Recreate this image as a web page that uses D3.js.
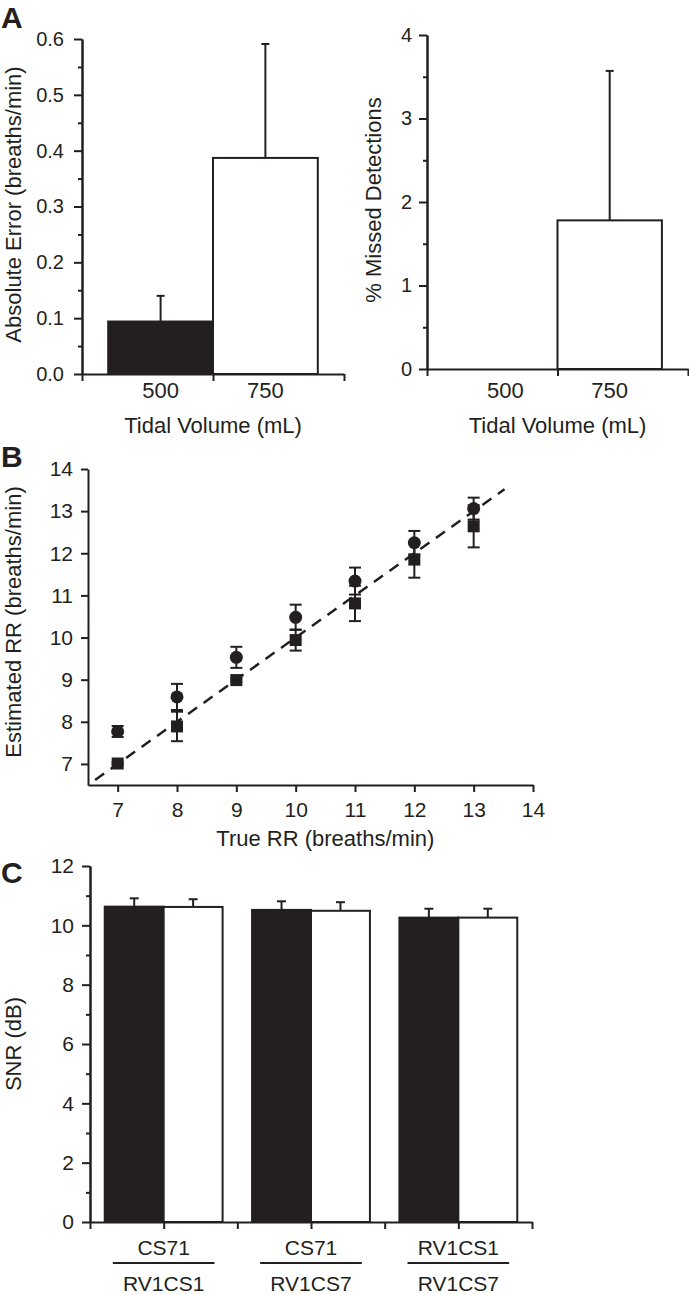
<!DOCTYPE html>
<html>
<head>
<meta charset="utf-8">
<script src="https://cdn.jsdelivr.net/npm/d3@7"></script>
<style>
    body { margin: 0; background: #fff; }
    svg text { font-family: "Liberation Sans", Arial, Helvetica, sans-serif; }
</style>
</head>
<body>
<svg id="fig" width="689" height="1295"></svg>
<script>
// Panel A data
const tidalVolumes = [500, 750];
const absErrorMean = [0.094, 0.387];
const absErrorSD = [0.046, 0.204];
const missedMean = [0, 1.78];
const missedSD = [0, 1.79];

// Panel B data
const trueRR = [7, 8, 9, 10, 11, 12, 13];
const estCircle = [7.77, 8.59, 9.53, 10.48, 11.34, 12.25, 13.06];
const errCircle = [0.13, 0.31, 0.25, 0.30, 0.32, 0.28, 0.26];
const estSquare = [7.01, 7.89, 8.99, 9.94, 10.81, 11.85, 12.64];
const errSquare = [0.03, 0.35, 0.04, 0.25, 0.42, 0.43, 0.50];
const identityRange = [6.62, 13.52];

// Panel C data
const snrTop = ["CS71", "CS71", "RV1CS1"];
const snrBottom = ["RV1CS1", "RV1CS7", "RV1CS7"];
const snrBlack = [10.63, 10.52, 10.26];
const snrBlackErr = [0.28, 0.29, 0.30];
const snrWhite = [10.62, 10.49, 10.26];
const snrWhiteErr = [0.26, 0.29, 0.30];

const ink = "#231f20";
const svg = d3.select("#fig");
svg.append("rect").attr("width", 689).attr("height", 1295).attr("fill", "#fff");

// applying common look to a d3 axis
function styleAxis(g, size) {
    g.attr("font-family", null).attr("font-size", null);
    g.selectAll("path, line").attr("stroke", ink).attr("stroke-width", 2);
    g.selectAll("text").attr("fill", ink).style("font-size", size + "px");
}

function yAxisWithMinor(scale, x, major, minor, fmt, pad, size) {
    const gMinor = svg.append("g").attr("transform", `translate(${x},0)`)
        .call(d3.axisLeft(scale).tickValues(minor).tickSize(4).tickSizeOuter(0).tickFormat(""));
    styleAxis(gMinor, size);
    const g = svg.append("g").attr("transform", `translate(${x},0)`)
        .call(d3.axisLeft(scale).tickValues(major).tickSize(8).tickSizeOuter(0).tickPadding(pad).tickFormat(fmt));
    styleAxis(g, size);
}

function yTitle(text, x, y) {
    svg.append("text")
        .attr("transform", `translate(${x},${y}) rotate(-90)`)
        .attr("text-anchor", "middle")
        .attr("fill", ink)
        .style("font-size", "22px")
        .text(text);
}

function panelLetter(text, x, y) {
    svg.append("text").attr("x", x).attr("y", y)
        .attr("fill", ink).style("font-size", "30px").style("font-weight", "bold")
        .text(text);
}

// ---------- Panel A ----------
function barPanel(xRange, yScale, means, sds, major, minor, fmt, pad, titleX, yLabel) {
    const x = d3.scaleLinear().domain([312.5, 937.5]).range(xRange);
    const y0 = yScale(0);

    // bars
    tidalVolumes.forEach((v, i) => {
        if (means[i] <= 0) return;
        svg.append("rect")
            .attr("x", x(v - 125)).attr("width", x(v + 125) - x(v - 125))
            .attr("y", yScale(means[i])).attr("height", y0 - yScale(means[i]))
            .attr("fill", i === 0 ? ink : "#fff")
            .attr("stroke", ink).attr("stroke-width", 2);
        // upward error bar
        const top = yScale(means[i] + sds[i]);
        svg.append("line").attr("x1", x(v)).attr("x2", x(v))
            .attr("y1", yScale(means[i])).attr("y2", top)
            .attr("stroke", ink).attr("stroke-width", 2);
        svg.append("line").attr("x1", x(v) - 4).attr("x2", x(v) + 4)
            .attr("y1", top).attr("y2", top)
            .attr("stroke", ink).attr("stroke-width", 2);
    });

    const gx = svg.append("g").attr("transform", `translate(0,${y0})`)
        .call(d3.axisBottom(x).tickValues([312.5, 625, 937.5]).tickSize(7).tickSizeOuter(0).tickFormat(""));
    styleAxis(gx, 22);

    svg.selectAll(null).data(tidalVolumes).enter().append("text")
        .attr("x", d => x(d)).attr("y", 398)
        .attr("text-anchor", "middle").attr("fill", ink).style("font-size", "22px")
        .text(d => d);
    svg.append("text").attr("x", (xRange[0] + xRange[1]) / 2).attr("y", 433)
        .attr("text-anchor", "middle").attr("fill", ink).style("font-size", "22px")
        .text("Tidal Volume (mL)");

    yAxisWithMinor(yScale, xRange[0], major, minor, fmt, pad, 20);
    yTitle(yLabel, titleX, (yScale.range()[0] + yScale.range()[1]) / 2 - 2);
}

const yA1 = d3.scaleLinear().domain([0, 0.6]).range([374, 39]);
barPanel([82, 344], yA1, absErrorMean, absErrorSD,
    d3.range(0, 0.61, 0.1), d3.range(0.05, 0.6, 0.1), d3.format(".1f"), 10, 21,
    "Absolute Error (breaths/min)");

const yA2 = d3.scaleLinear().domain([0, 4]).range([369, 35]);
barPanel([427, 688], yA2, missedMean, missedSD,
    [0, 1, 2, 3, 4], [0.5, 1.5, 2.5, 3.5], d3.format("d"), 7, 381,
    "% Missed Detections");

panelLetter("A", 1, 28);

// ---------- Panel B ----------
const xB = d3.scaleLinear().domain([6.5, 14]).range([88, 533]);
const yB = d3.scaleLinear().domain([6.5, 14]).range([785, 469]);

svg.append("path")
    .datum(identityRange)
    .attr("d", d3.line().x(d => xB(d)).y(d => yB(d)))
    .attr("fill", "none").attr("stroke", ink).attr("stroke-width", 2.5)
    .attr("stroke-dasharray", "11,8");

function errorBars(means, errs) {
    trueRR.forEach((t, i) => {
        const cx = xB(t);
        const lo = yB(means[i] - errs[i]), hi = yB(means[i] + errs[i]);
        svg.append("line").attr("x1", cx).attr("x2", cx).attr("y1", lo).attr("y2", hi)
            .attr("stroke", ink).attr("stroke-width", 2);
        [lo, hi].forEach(yy => {
            svg.append("line").attr("x1", cx - 6).attr("x2", cx + 6).attr("y1", yy).attr("y2", yy)
                .attr("stroke", ink).attr("stroke-width", 2);
        });
    });
}
errorBars(estCircle, errCircle);
errorBars(estSquare, errSquare);

svg.selectAll(".sq").data(trueRR).enter().append("rect")
    .attr("class", "sq")
    .attr("x", d => xB(d) - 6).attr("y", (d, i) => yB(estSquare[i]) - 6)
    .attr("width", 12).attr("height", 12).attr("fill", ink);
svg.selectAll(".ci").data(trueRR).enter().append("circle")
    .attr("class", "ci")
    .attr("cx", d => xB(d)).attr("cy", (d, i) => yB(estCircle[i]))
    .attr("r", 6.5).attr("fill", ink);

const gxB = svg.append("g").attr("transform", `translate(0,${yB(6.5)})`)
    .call(d3.axisBottom(xB).tickValues(d3.range(7, 15)).tickSize(7).tickSizeOuter(0).tickPadding(10));
styleAxis(gxB, 21);
const gyB = svg.append("g").attr("transform", `translate(${xB(6.5)},0)`)
    .call(d3.axisLeft(yB).tickValues(d3.range(7, 15)).tickSize(7).tickSizeOuter(0).tickPadding(8));
styleAxis(gyB, 21);

svg.append("text").attr("x", (xB(7) + xB(14)) / 2).attr("y", 846)
    .attr("text-anchor", "middle").attr("fill", ink).style("font-size", "22px")
    .text("True RR (breaths/min)");
yTitle("Estimated RR (breaths/min)", 21, 622);
panelLetter("B", 1, 467);

// ---------- Panel C ----------
const xC = d3.scaleLinear().domain([0, 3]).range([90, 532]);
const yC = d3.scaleLinear().domain([0, 12]).range([1222, 866]);
const barW = xC(0.4) - xC(0);

snrTop.forEach((lab, i) => {
    const c = xC(i + 0.5);
    const pairs = [
        { x0: c - barW, v: snrBlack[i], e: snrBlackErr[i], fill: ink },
        { x0: c, v: snrWhite[i], e: snrWhiteErr[i], fill: "#fff" }
    ];
    pairs.forEach(p => {
        svg.append("rect").attr("x", p.x0).attr("width", barW)
            .attr("y", yC(p.v)).attr("height", yC(0) - yC(p.v))
            .attr("fill", p.fill).attr("stroke", ink).attr("stroke-width", 2);
        const cx = p.x0 + barW / 2, top = yC(p.v + p.e);
        svg.append("line").attr("x1", cx).attr("x2", cx).attr("y1", yC(p.v)).attr("y2", top)
            .attr("stroke", ink).attr("stroke-width", 2);
        svg.append("line").attr("x1", cx - 4.5).attr("x2", cx + 4.5).attr("y1", top).attr("y2", top)
            .attr("stroke", ink).attr("stroke-width", 2);
    });

    // two-line ratio label
    svg.append("text").attr("x", c).attr("y", 1255).attr("text-anchor", "middle")
        .attr("fill", ink).style("font-size", "21px").text(lab);
    svg.append("line").attr("x1", xC(i + 0.5 - 0.345)).attr("x2", xC(i + 0.5 + 0.345))
        .attr("y1", 1263).attr("y2", 1263).attr("stroke", ink).attr("stroke-width", 2);
    svg.append("text").attr("x", c).attr("y", 1291).attr("text-anchor", "middle")
        .attr("fill", ink).style("font-size", "21px").text(snrBottom[i]);
});

const gxC = svg.append("g").attr("transform", `translate(0,${yC(0)})`)
    .call(d3.axisBottom(xC).tickValues(d3.range(0, 3.01, 0.5)).tickSize(7).tickSizeOuter(0).tickFormat(""));
styleAxis(gxC, 21);
yAxisWithMinor(yC, xC(0), d3.range(0, 13, 2), d3.range(1, 12, 2), d3.format("d"), 8, 21);
yTitle("SNR (dB)", 21, 1044);
panelLetter("C", 1, 883);
</script>
</body>
</html>
